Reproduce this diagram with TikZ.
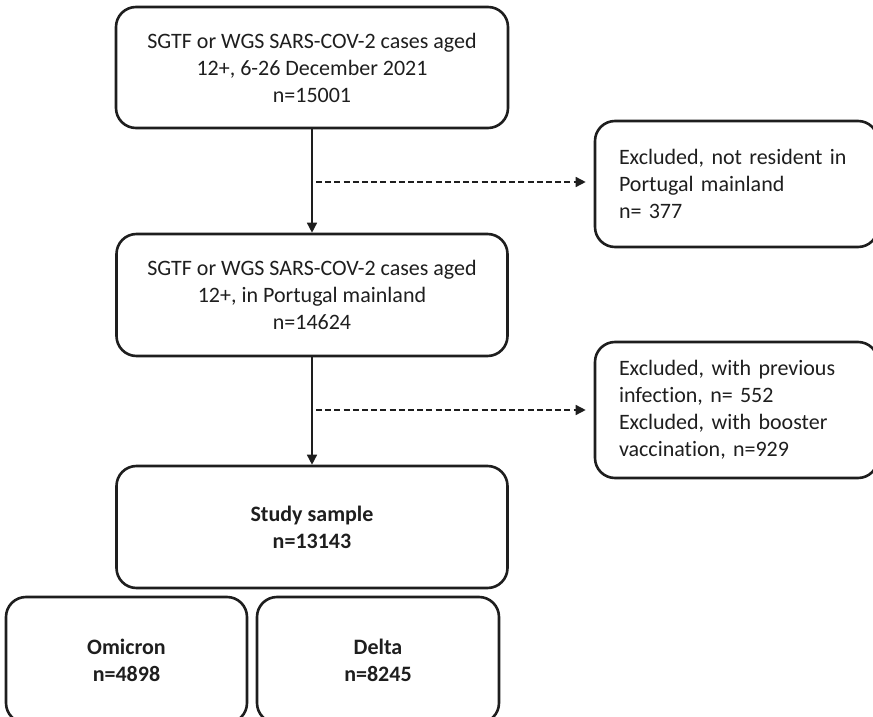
\documentclass[tikz,border=0pt]{standalone}
\usepackage{fontspec}
\setmainfont{Carlito}[Ligatures={NoCommon,NoRare,NoContextual}]
\usetikzlibrary{arrows.meta}
\definecolor{ink}{HTML}{1E1E1E}
\begin{document}
\begin{tikzpicture}[x=0.5pt,y=-0.5pt,
  box/.style={draw=ink, line width=1.3pt, rounded corners=10pt, align=center,
    inner sep=0pt, text=ink, font=\fontsize{11}{13.5}\selectfont},
  sidebox/.style={box, align=left, text width=117.5pt, inner xsep=12pt},
  flow/.style={draw=ink, line width=0.75pt, -{Triangle[length=5pt,width=5pt]}},
  excl/.style={flow, dash pattern=on 3pt off 1.6pt}]
\useasboundingbox (0,0) rectangle (873,717);
\clip (0,0) rectangle (873,717);

\node[box, minimum width=196pt, minimum height=60.5pt] (b1) at (312,67.5)
  {SGTF or WGS SARS-COV-2 cases aged\\12+, 6-26 December 2021\\n=15001};
\node[box, minimum width=195.5pt, minimum height=61pt] (b2) at (312,295)
  {SGTF or WGS SARS-COV-2 cases aged\\12+, in Portugal mainland\\n=14624};
\node[box, minimum width=195.5pt, minimum height=61pt, font=\fontsize{11}{13.5}\selectfont\bfseries] (b3) at (312,527)
  {Study sample\\n=13143};
\node[box, minimum width=120.5pt, minimum height=63pt, font=\fontsize{11}{13.5}\selectfont\bfseries] (om) at (126.5,660)
  {Omicron\\n=4898};
\node[box, minimum width=121pt, minimum height=63pt, font=\fontsize{11}{13.5}\selectfont\bfseries] (de) at (378,660)
  {Delta\\n=8245};
\node[sidebox, minimum height=63pt] (r1) at (736.5,184)
  {Excluded, not resident in\\Portugal mainland\\n= 377};
\node[sidebox, minimum height=68pt] (r2) at (736.5,410)
  {Excluded, with previous\\infection, n= 552\\Excluded, with booster\\vaccination, n=929};

\draw[flow] (b1.south) -- (b2.north);
\draw[flow] (b2.south) -- (b3.north);
\coordinate (d1) at (316,182);
\coordinate (d2) at (316,410);
\draw[excl, shorten >=4pt] (d1) -- (d1 -| r1.west);
\draw[excl, shorten >=4pt] (d2) -- (d2 -| r2.west);
\end{tikzpicture}
\end{document}
